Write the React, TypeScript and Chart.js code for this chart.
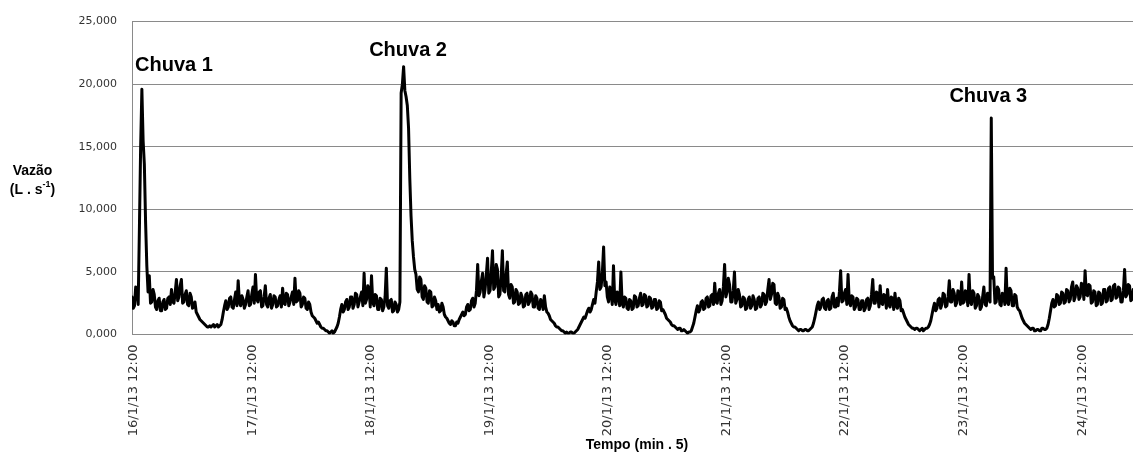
import { useEffect, useRef } from "react";
import { Chart, registerables } from "chart.js";

Chart.register(...registerables);

// Flow readings (L/s) every 15 minutes, each day starting at 12:00 of the labelled date
const START_DAY = 16;
const STEP_HOURS = 0.25;

const flow16 = [
  3.0, 2.1, 2.3, 3.8, 3.6, 2.4, 8.5, 15.0, 19.6, 15.5,
  13.6, 9.0, 5.5, 3.4, 4.7, 2.5, 2.6, 3.6, 3.2, 2.2,
  2.0, 2.7, 2.9, 1.9, 1.9, 2.6, 2.8, 2.0, 2.1, 2.9,
  3.0, 2.4, 3.6, 2.6, 2.5, 3.4, 4.4, 2.7, 3.0, 3.9,
  4.4, 2.5, 2.6, 3.2, 3.5, 2.4, 2.3, 3.3, 3.0, 2.1,
  2.2, 2.6, 1.8, 1.6, 1.4, 1.2, 1.1, 1.0, 0.9, 0.8,
  0.7, 0.6, 0.6, 0.7, 0.6, 0.7, 0.8, 0.6, 0.7, 0.8,
  0.6, 0.7, 0.8, 1.2, 1.8, 2.3, 2.7, 2.0, 2.2, 2.9,
  3.0, 2.2, 2.1, 2.8, 3.4, 2.3, 4.3, 2.6, 2.3, 3.1,
  2.8, 2.1, 2.4, 3.0, 3.5, 2.3,
];
const flow17 = [
  2.4, 3.2, 3.8, 2.5, 4.8, 2.8, 2.6, 3.4, 3.5, 2.2,
  2.3, 3.0, 3.9, 2.4, 2.2, 2.9, 3.2, 2.1, 2.4, 3.1,
  3.0, 2.2, 2.3, 2.8, 3.1, 2.2, 3.7, 2.5, 2.4, 3.3,
  3.2, 2.3, 2.6, 3.0, 3.4, 2.4, 4.5, 2.6, 2.7, 3.5,
  3.3, 2.2, 2.4, 3.0, 2.9, 2.1, 2.0, 2.6, 2.4, 1.8,
  1.5, 1.4, 1.3, 1.1, 0.9, 1.0, 0.8, 0.6, 0.5, 0.5,
  0.4, 0.3, 0.3, 0.2, 0.1, 0.2, 0.3, 0.1, 0.2, 0.4,
  0.6, 0.9, 1.4, 2.0, 2.4, 1.8, 2.0, 2.6, 2.8, 2.0,
  2.2, 3.0, 3.0, 2.1, 2.4, 3.3, 3.2, 2.2, 2.6, 3.0,
  3.4, 2.3, 4.9, 2.5, 2.8, 3.9,
];
const flow18 = [
  3.6, 2.2, 4.7, 2.6, 2.3, 3.2, 3.1, 2.0, 2.0, 2.9,
  2.8, 1.9, 2.2, 3.0, 5.3, 2.3, 2.1, 2.7, 2.8, 1.8,
  1.9, 2.6, 2.4, 1.8, 2.0, 2.6, 19.3, 20.0, 21.4, 19.5,
  19.0, 18.3, 16.5, 12.5, 9.5, 7.5, 6.2, 5.2, 4.8, 3.6,
  3.4, 4.6, 4.4, 3.0, 2.8, 3.9, 3.7, 2.6, 2.5, 3.5,
  3.4, 2.2, 2.3, 3.0, 2.7, 2.0, 2.4, 1.8, 1.9, 2.5,
  2.2, 1.6, 1.4, 1.3, 1.1, 0.9, 0.8, 1.1, 1.0, 0.7,
  0.7, 1.0, 0.9, 1.2, 1.4, 1.6, 1.8, 1.5, 1.6, 2.2,
  2.4, 1.9, 2.0, 2.7, 2.9, 2.2, 2.5, 3.5, 5.6, 3.1,
  3.4, 4.3, 4.9, 3.0, 3.6, 4.8,
];
const flow19 = [
  6.1, 3.3, 3.5, 5.0, 6.7, 3.6, 3.8, 5.6, 5.2, 3.0,
  3.2, 4.6, 6.7, 3.5, 3.4, 4.8, 5.8, 3.2, 2.9, 4.0,
  3.8, 2.5, 2.6, 3.6, 3.4, 2.4, 2.5, 3.3, 3.0, 2.2,
  2.3, 3.2, 3.3, 2.4, 2.6, 3.4, 3.2, 2.2, 2.2, 3.1,
  2.9, 2.1, 2.0, 2.8, 2.6, 2.0, 3.1, 2.2, 1.8, 1.7,
  1.5, 1.2, 1.1, 1.0, 0.9, 0.7, 0.6, 0.6, 0.5, 0.4,
  0.3, 0.3, 0.2, 0.1, 0.2, 0.1, 0.1, 0.2, 0.2, 0.1,
  0.1, 0.2, 0.3, 0.4, 0.6, 0.8, 1.0, 1.2, 1.4, 1.3,
  1.6, 1.9, 2.1, 1.8, 2.0, 2.4, 2.8, 2.5, 3.4, 4.2,
  5.8, 3.6, 3.8, 5.0, 7.0, 3.9,
];
const flow20 = [
  4.2, 3.0, 2.6, 3.8, 3.3, 2.4, 5.5, 2.8, 2.4, 3.4,
  3.2, 2.3, 5.0, 2.5, 2.2, 3.0, 2.9, 2.1, 2.0, 2.8,
  2.7, 2.0, 2.1, 3.1, 3.0, 2.2, 2.3, 2.9, 3.3, 2.3,
  2.4, 3.2, 3.1, 2.2, 2.3, 3.0, 2.9, 2.1, 2.2, 2.8,
  2.8, 2.0, 2.1, 2.7, 2.6, 1.9, 2.0, 1.8, 1.6, 1.3,
  1.2, 1.1, 1.0, 0.8, 0.7, 0.7, 0.6, 0.5, 0.4, 0.5,
  0.5, 0.3, 0.3, 0.4, 0.3, 0.2, 0.1, 0.2, 0.2, 0.3,
  0.6, 0.9, 1.4, 1.9, 2.3, 1.8, 2.0, 2.6, 2.7, 2.0,
  2.1, 2.9, 3.0, 2.2, 2.3, 3.1, 3.2, 2.4, 4.1, 2.6,
  2.5, 3.3, 3.6, 2.4, 2.7, 3.8,
];
const flow21 = [
  5.6, 3.0, 3.4, 4.5, 4.0, 2.6, 2.6, 3.5, 5.0, 2.5,
  2.8, 3.6, 3.2, 2.2, 2.3, 3.0, 2.9, 2.0, 2.1, 2.8,
  3.0, 2.1, 2.3, 3.1, 2.8, 2.0, 2.1, 2.9, 3.0, 2.2,
  2.4, 3.3, 3.2, 2.4, 2.6, 3.6, 4.4, 2.8, 3.2, 4.1,
  4.0, 2.5, 2.4, 3.3, 3.0, 2.1, 2.2, 2.9, 2.8, 2.0,
  2.1, 1.8, 1.4, 1.1, 0.9, 0.7, 0.6, 0.6, 0.5, 0.4,
  0.3, 0.4, 0.4, 0.3, 0.3, 0.4, 0.4, 0.3, 0.3, 0.4,
  0.5, 0.6, 0.9, 1.3, 1.8, 2.3, 2.6, 2.0, 2.2, 2.8,
  2.9, 2.1, 2.0, 2.7, 2.8, 2.0, 2.1, 3.0, 3.3, 2.2,
  2.2, 2.9, 2.3, 3.4, 5.1, 2.6,
];
const flow22 = [
  2.7, 3.3, 3.6, 2.4, 4.8, 2.6, 2.3, 3.1, 3.0, 2.0,
  2.2, 2.9, 2.8, 2.0, 2.0, 2.7, 2.7, 1.9, 2.1, 2.8,
  2.9, 2.0, 2.3, 3.2, 4.4, 2.5, 2.5, 3.4, 3.3, 2.2,
  3.9, 2.5, 2.4, 3.2, 3.1, 2.1, 3.6, 2.4, 2.2, 3.0,
  2.9, 2.0, 3.3, 2.3, 2.1, 2.9, 2.7, 1.9, 2.0, 1.7,
  1.4, 1.2, 1.0, 0.8, 0.7, 0.6, 0.5, 0.5, 0.4, 0.5,
  0.5, 0.4, 0.3, 0.4, 0.5, 0.3, 0.4, 0.5, 0.5, 0.6,
  0.8, 1.1, 1.6, 2.1, 2.5, 1.9, 2.1, 2.8, 2.9, 2.1,
  2.4, 3.3, 3.2, 2.2, 2.3, 3.0, 4.3, 2.6, 2.6, 3.6,
  3.3, 2.3, 2.5, 3.5, 3.4, 2.4,
];
const flow23 = [
  4.2, 2.5, 2.6, 3.5, 3.4, 2.3, 4.8, 2.6, 2.4, 3.5,
  3.3, 2.1, 2.3, 3.2, 3.0, 2.0, 2.2, 3.0, 3.8, 2.4,
  2.3, 3.3, 3.0, 2.6, 17.3, 4.5, 4.6, 2.5, 2.6, 3.8,
  3.6, 2.4, 2.3, 3.3, 3.2, 2.4, 5.3, 2.6, 2.4, 3.7,
  3.5, 2.3, 2.3, 3.2, 3.1, 2.2, 2.0, 1.9, 1.6, 1.3,
  1.1, 0.9, 0.8, 0.7, 0.6, 0.5, 0.4, 0.5, 0.5, 0.3,
  0.3, 0.4, 0.4, 0.3, 0.3, 0.5, 0.5, 0.4, 0.4, 0.5,
  0.8, 1.3, 1.9, 2.5, 2.8, 2.2, 2.3, 3.2, 3.1, 2.4,
  2.5, 3.4, 3.3, 2.5, 2.6, 3.6, 3.5, 2.6, 2.8, 3.8,
  4.2, 2.7, 3.0, 3.9, 3.7, 2.8,
];
const flow24 = [
  3.0, 4.1, 4.0, 2.8, 5.1, 3.2, 3.1, 4.0, 3.9, 2.5,
  2.6, 3.5, 3.4, 2.3, 2.4, 3.4, 3.3, 2.4, 2.5, 3.6,
  3.6, 2.6, 2.7, 3.7, 3.8, 2.7, 2.8, 3.9, 4.0, 2.9,
  3.0, 3.8, 3.7, 2.6, 2.6, 3.5, 5.2, 3.0, 3.2, 4.0,
  3.9, 2.7, 2.8, 3.6, 3.5,
];

const FLOW = [
  ...flow16, ...flow17, ...flow18, ...flow19, ...flow20,
  ...flow21, ...flow22, ...flow23, ...flow24,
];

// Rain events: label, hour from the start, flow level where the label sits
const RAIN_LABELS = ["Chuva 1", "Chuva 2", "Chuva 3"];
const RAIN_HOURS = [8.5, 55.9, 173.4];
const RAIN_LEVELS = [21.5, 22.7, 19.0];

const Y_MAX = 25;
const Y_STEP = 5;
const X_MAX_HOURS = 202.7;
const X_TITLE = "Tempo (min . 5)";
const Y_TITLE = "Vazão";
const Y_UNIT = ["(L . s", "-1", ")"];

const GRID = "#8a8a8a";
const TICK_COLOR = "#333333";
const SANS = '"Liberation Sans", Arial, sans-serif';

const dayLabel = (h: number) => `${START_DAY + Math.round(h / 24)}/1/13 12:00`;

const textsPlugin = {
  id: "flowTexts",
  afterDraw(chart: any) {
    const { ctx } = chart;
    const x = chart.scales.x;
    const y = chart.scales.y;
    ctx.save();
    ctx.fillStyle = "#000";
    ctx.textAlign = "center";
    ctx.textBaseline = "middle";

    ctx.font = `bold 20px ${SANS}`;
    RAIN_LABELS.forEach((label, i) => {
      ctx.fillText(label, x.getPixelForValue(RAIN_HOURS[i]), y.getPixelForValue(RAIN_LEVELS[i]));
    });

    ctx.font = `bold 14px ${SANS}`;
    ctx.fillText(X_TITLE, 637, 445);
    ctx.fillText(Y_TITLE, 32.5, 171);

    // unit line with superscript exponent
    const main = `bold 14px ${SANS}`;
    const sup = `bold 9px ${SANS}`;
    ctx.font = main;
    const w0 = ctx.measureText(Y_UNIT[0]).width;
    const w2 = ctx.measureText(Y_UNIT[2]).width;
    ctx.font = sup;
    const w1 = ctx.measureText(Y_UNIT[1]).width;
    const total = w0 + w1 + w2;
    let cx = 32.5 - total / 2;
    ctx.textAlign = "left";
    ctx.font = main;
    ctx.fillText(Y_UNIT[0], cx, 190);
    cx += w0;
    ctx.font = sup;
    ctx.fillText(Y_UNIT[1], cx, 185);
    cx += w1;
    ctx.font = main;
    ctx.fillText(Y_UNIT[2], cx, 190);
    ctx.restore();
  },
};

export default function App() {
  const canvasRef = useRef<HTMLCanvasElement | null>(null);

  useEffect(() => {
    if (!canvasRef.current) return;
    const points = FLOW.map((v, i) => ({ x: i * STEP_HOURS, y: v }));
    const chart = new Chart(canvasRef.current, {
      type: "line",
      data: {
        datasets: [
          {
            data: points,
            borderColor: "#000",
            borderWidth: 3,
            pointRadius: 0,
            tension: 0,
            fill: false,
            borderJoinStyle: "round",
            borderCapStyle: "round",
          },
        ],
      },
      options: {
        responsive: false,
        animation: false,
        events: [],
        layout: { padding: { top: 15.5, left: 0, right: 0, bottom: 0 } },
        plugins: { legend: { display: false }, tooltip: { enabled: false } },
        scales: {
          x: {
            type: "linear",
            min: 0,
            max: X_MAX_HOURS,
            grid: { display: false, drawTicks: false },
            border: { display: true, color: GRID, width: 1 },
            ticks: {
              stepSize: 24,
              includeBounds: false,
              autoSkip: false,
              minRotation: 90,
              maxRotation: 90,
              padding: 10,
              labelOffset: 2,
              color: TICK_COLOR,
              font: { family: '"DejaVu Sans", sans-serif', size: 13 },
              callback: (v: any) => (Number(v) % 24 === 0 ? dayLabel(Number(v)) : ""),
            },
            afterFit: (scale: any) => {
              scale.height = 120.5;
            },
          },
          y: {
            min: 0,
            max: Y_MAX,
            grid: { color: GRID, lineWidth: 1, drawTicks: false },
            border: { display: true, color: GRID, width: 1 },
            ticks: {
              stepSize: Y_STEP,
              padding: 15,
              color: TICK_COLOR,
              font: { family: '"DejaVu Sans", sans-serif', size: 11 },
              callback: (v: any) => Number(v).toFixed(3).replace(".", ","),
            },
            afterFit: (scale: any) => {
              scale.width = 132;
            },
          },
        },
      },
      plugins: [textsPlugin],
    });
    return () => chart.destroy();
  }, []);

  return (
    <div style={{ position: "absolute", left: 0, top: 0, width: 1133, height: 455, background: "#fff" }}>
      <canvas ref={canvasRef} width={1133} height={455} style={{ display: "block" }} />
    </div>
  );
}
